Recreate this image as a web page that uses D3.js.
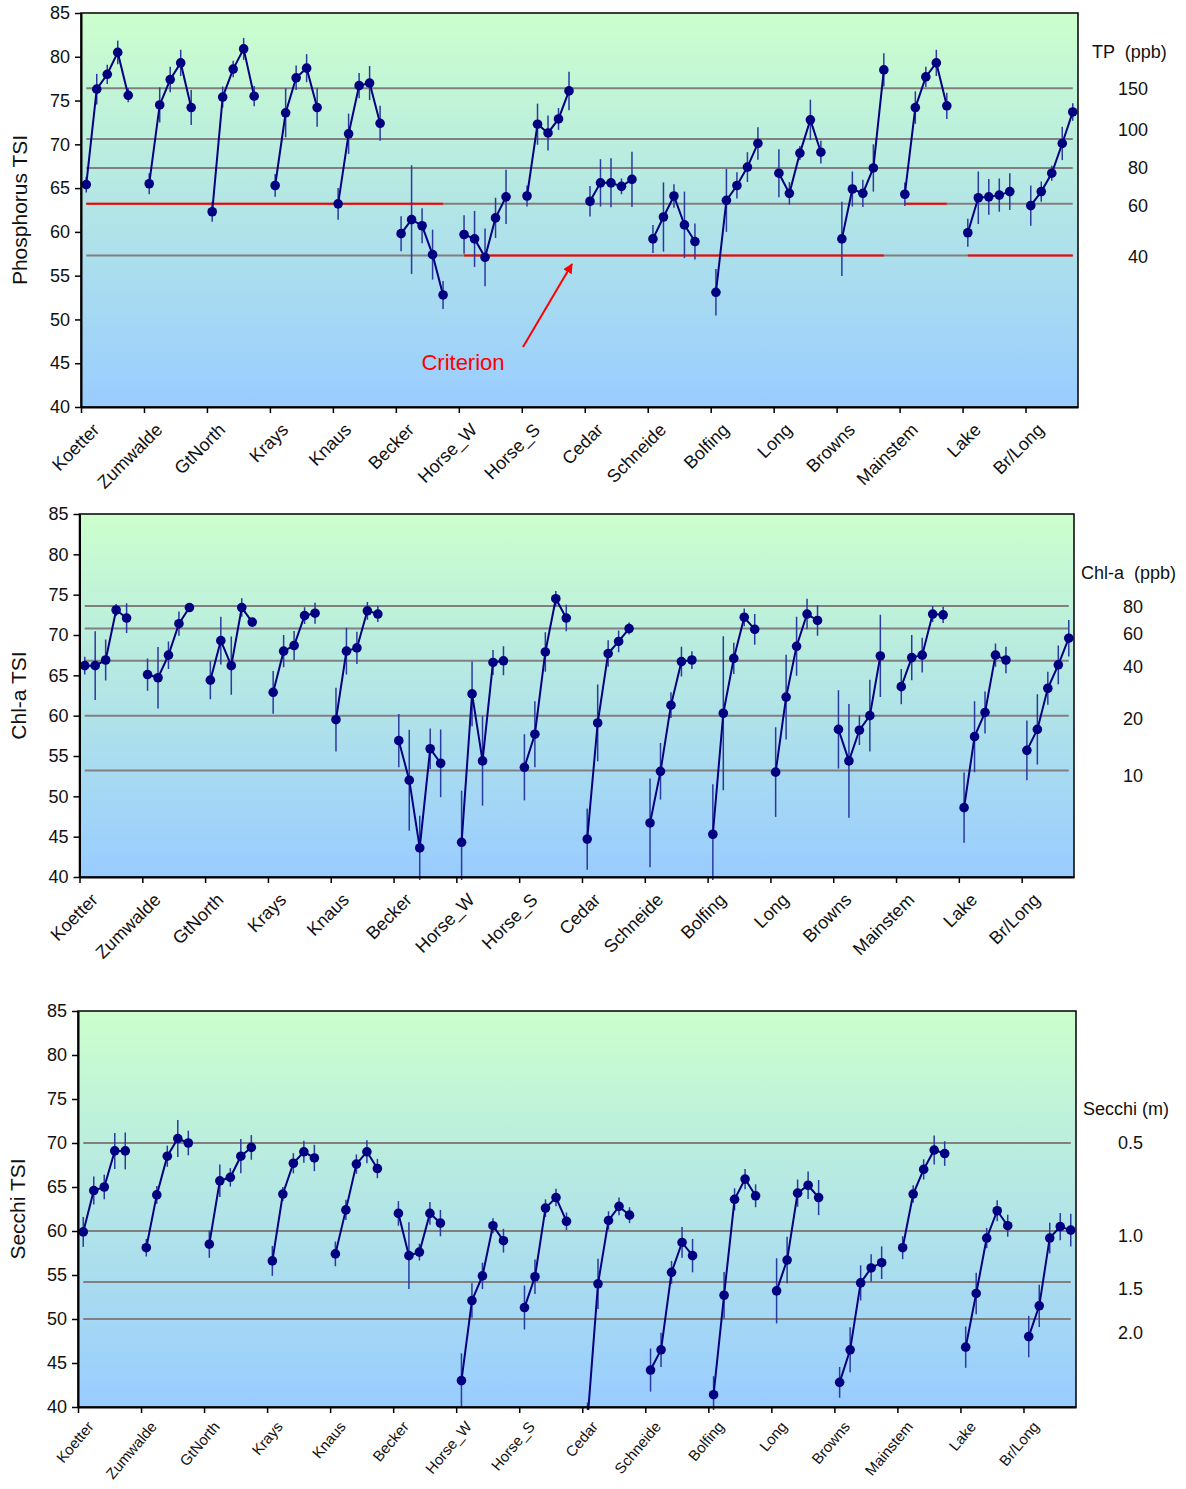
<!DOCTYPE html>
<html>
<head>
<meta charset="utf-8">
<script src="https://cdn.jsdelivr.net/npm/d3@7"></script>
<style>
  html, body { margin: 0; padding: 0; background: #fff; }
  svg { display: block; font-family: "Liberation Sans", Arial, sans-serif; }
</style>
</head>
<body>
<svg id="chart" width="1186" height="1489"></svg>
<script>
// Sites along the watershed, each sampled over five seasons
const categories = ["Koetter","Zumwalde","GtNorth","Krays","Knaus","Becker","Horse_W","Horse_S",
  "Cedar","Schneide","Bolfing","Long","Browns","Mainstem","Lake","Br/Long"];

// Phosphorus TSI (five seasons per site) and error half-widths
const tpTSI = [
  65.4,76.3,78.0,80.5,75.6,  65.5,74.5,77.4,79.3,74.2,  62.3,75.4,78.6,80.9,75.5,
  65.3,73.6,77.6,78.7,74.2,  63.2,71.2,76.7,77.0,72.4,  59.8,61.4,60.7,57.4,52.8,
  59.7,59.2,57.1,61.6,64.0,  64.1,72.3,71.3,72.9,76.1,  63.5,65.6,65.6,65.2,66.0,
  59.2,61.7,64.1,60.8,58.9,  53.1,63.6,65.3,67.4,70.1,  66.7,64.4,69.0,72.8,69.1,
  59.2,64.9,64.4,67.3,78.5,  64.3,74.2,77.7,79.3,74.4,  59.9,63.9,64.0,64.2,64.6,
  63.0,64.6,66.7,70.1,73.7];
const tpErr = [
  0.9,1.75,1.1,1.35,0.8,  1.2,2.0,1.45,1.5,2.0,  1.15,1.2,0.95,1.25,1.15,
  1.3,2.8,1.4,1.6,2.2,  1.8,2.3,1.45,1.95,2.0,  2.0,6.2,2.0,2.85,1.6,
  2.2,3.2,3.3,2.3,3.1,  1.2,2.35,2.0,1.25,2.2,  1.75,2.7,2.8,0.9,3.15,
  1.6,3.95,1.35,3.8,2.05,  2.65,3.6,1.5,1.7,1.85,  2.75,1.3,0.8,2.3,1.3,
  4.25,2.0,1.55,2.7,1.9,  1.35,1.85,1.15,1.5,1.5,  1.6,3.0,2.05,1.9,2.1,
  2.3,1.15,0.85,1.9,1.0];

// Chlorophyll-a TSI and error half-widths
const chlTSI = [
  66.2,66.2,66.9,73.1,72.1,  65.1,64.7,67.5,71.4,73.4,  64.4,69.3,66.2,73.4,71.6,
  62.9,68.0,68.7,72.4,72.7,  59.5,68.0,68.4,73.0,72.6,  56.9,52.0,43.6,55.9,54.1,
  44.3,62.7,54.4,66.6,66.8,  53.6,57.7,67.9,74.5,72.1,  44.7,59.1,67.7,69.2,70.8,
  46.7,53.1,61.3,66.7,66.9,  45.3,60.3,67.1,72.2,70.7,  53.0,62.3,68.6,72.6,71.8,
  58.3,54.4,58.2,60.0,67.4,  63.6,67.2,67.5,72.6,72.5,  48.6,57.4,60.4,67.5,66.9,
  55.7,58.3,63.4,66.3,69.6];
const chlErr = [
  1.1,4.25,2.55,0.75,1.85,  2.0,3.8,1.7,1.5,0.5,  2.35,2.95,3.6,1.15,0.5,
  2.65,2.0,1.8,1.05,1.3,  3.95,2.9,2.0,1.1,1.0,  3.3,6.25,4.0,2.5,4.2,
  6.4,4.0,5.55,1.55,1.8,  4.1,4.1,2.45,0.95,1.65,  3.8,4.75,1.65,1.35,0.75,
  5.5,3.5,1.6,1.85,1.1,  6.2,9.55,1.95,1.1,1.9,  5.55,5.25,3.65,1.9,1.9,
  4.85,7.05,1.85,4.45,5.1,  2.2,2.8,2.15,1.0,1.0,  4.35,4.4,2.6,1.45,1.65,
  3.7,4.35,2.05,2.4,2.25];

// Secchi depth TSI and error half-widths
const sdTSI = [
  59.9,64.6,65.0,69.1,69.1,  58.1,64.1,68.5,70.5,70.0,  58.5,65.7,66.1,68.5,69.5,
  56.6,64.2,67.7,69.0,68.3,  57.4,62.4,67.6,69.0,67.1,  62.0,57.2,57.6,62.0,60.9,
  43.0,52.1,54.9,60.6,58.9,  51.3,54.8,62.6,63.8,61.1,  38.5,54.0,61.2,62.8,61.8,
  44.2,46.5,55.3,58.7,57.2,  41.4,52.7,63.6,65.9,64.0,  53.2,56.7,64.3,65.2,63.8,
  42.8,46.5,54.1,55.8,56.4,  58.1,64.2,67.0,69.2,68.8,  46.8,52.9,59.2,62.3,60.6,
  48.0,51.5,59.2,60.5,60.1];
const sdErr = [
  1.7,1.6,1.4,2.05,2.1,  1.0,1.0,1.2,2.1,1.4,  1.55,1.85,1.05,1.95,1.4,
  1.7,0.8,1.15,1.25,1.5,  1.4,1.15,1.1,1.3,1.1,  1.4,3.8,0.95,1.3,1.5,
  3.1,1.95,1.5,0.85,1.35,  2.5,1.95,1.0,1.0,1.0,  2.0,2.85,1.05,1.0,0.9,
  2.45,1.95,1.3,1.75,1.9,  2.1,2.65,1.25,1.15,1.3,  3.7,2.65,1.55,1.55,2.0,
  1.75,2.55,2.0,1.55,1.85,  1.3,1.0,1.15,1.65,1.4,  2.35,2.35,1.15,1.2,1.25,
  2.35,2.4,1.75,1.55,1.85];

// Reference levels (TSI) with their concentration / depth labels
const tpRefTSI = [76.4, 70.6, 67.3, 63.2, 57.3];
const tpRefLabels = ["150", "100", "80", "60", "40"];
const chlRefTSI = [73.6, 70.8, 66.8, 60.0, 53.2];
const chlRefLabels = ["80", "60", "40", "20", "10"];
const sdRefTSI = [70.0, 60.0, 54.2, 50.0];
const sdRefLabels = ["0.5", "1.0", "1.5", "2.0"];

// Phosphorus criterion per site (TSI of 60 or 40 ppb)
const tpCriterionTSI = [63.2,63.2,63.2,63.2,63.2,63.2,57.3,57.3,57.3,57.3,57.3,57.3,57.3,63.2,57.3,57.3];

const yTicks = [40,45,50,55,60,65,70,75,80,85];

const SEASONS = 5, SLOT = 6, NSLOTS = categories.length * SLOT - 1;

const svg = d3.select("#chart");
const defs = svg.append("defs");
const grad = defs.append("linearGradient").attr("id", "bg").attr("x1", 0).attr("y1", 0).attr("x2", 0).attr("y2", 1);
grad.append("stop").attr("offset", "0%").attr("stop-color", "#ccffcc");
grad.append("stop").attr("offset", "100%").attr("stop-color", "#99ccff");

defs.append("marker").attr("id", "arrowhead").attr("viewBox", "0 0 10 10")
  .attr("refX", 9).attr("refY", 5).attr("markerWidth", 5).attr("markerHeight", 5)
  .attr("orient", "auto")
  .append("path").attr("d", "M0,0 L10,5 L0,10 z").attr("fill", "#ff0000");

function drawPanel(cfg, idx) {
  const g = svg.append("g");
  const x = d3.scaleLinear().domain([0, NSLOTS]).range([cfg.left, cfg.right]);
  const y = d3.scaleLinear().domain([40, 85]).range([cfg.bottom, cfg.top]);
  const sx = i => x(i + 0.5);
  const slotOf = k => Math.floor(k / SEASONS) * SLOT + (k % SEASONS);

  g.append("rect").attr("x", cfg.left).attr("y", cfg.top)
    .attr("width", cfg.right - cfg.left).attr("height", cfg.bottom - cfg.top)
    .attr("fill", "url(#bg)");

  const clipId = "clip" + idx;
  defs.append("clipPath").attr("id", clipId).append("rect")
    .attr("x", cfg.left).attr("y", cfg.top)
    .attr("width", cfg.right - cfg.left).attr("height", cfg.bottom - cfg.top + 3);

  // reference lines
  g.selectAll(".ref").data(cfg.refTSI).join("line")
    .attr("x1", sx(0)).attr("x2", sx(NSLOTS - 1))
    .attr("y1", d => y(d)).attr("y2", d => y(d))
    .attr("stroke", "#808080").attr("stroke-width", 2);

  // criterion segments
  if (cfg.criterion) {
    const runs = [];
    cfg.criterion.forEach((v, c) => {
      const last = runs[runs.length - 1];
      if (last && last.v === v && last.end === c - 1) last.end = c;
      else runs.push({ v, start: c, end: c });
    });
    g.selectAll(".crit").data(runs).join("line")
      .attr("x1", d => sx(d.start * SLOT)).attr("x2", d => sx(d.end * SLOT + SEASONS - 1))
      .attr("y1", d => y(d.v)).attr("y2", d => y(d.v))
      .attr("stroke", "#ff0000").attr("stroke-width", 2);
  }

  const pts = cfg.values.map((v, k) => ({ v, e: cfg.errors[k], slot: slotOf(k), cat: Math.floor(k / SEASONS) }));
  const plot = g.append("g").attr("clip-path", `url(#${clipId})`);

  plot.selectAll(".err").data(pts).join("line")
    .attr("x1", d => sx(d.slot)).attr("x2", d => sx(d.slot))
    .attr("y1", d => y(d.v - d.e)).attr("y2", d => y(d.v + d.e))
    .attr("stroke", "#2b3a9e").attr("stroke-width", 1.5);

  const line = d3.line().x(d => sx(d.slot)).y(d => y(d.v));
  const groups = d3.groups(pts, d => d.cat).map(d => d[1]);
  plot.selectAll(".series").data(groups).join("path")
    .attr("d", line).attr("fill", "none")
    .attr("stroke", "#000080").attr("stroke-width", 2);

  plot.selectAll(".dot").data(pts).join("circle")
    .attr("cx", d => sx(d.slot)).attr("cy", d => y(d.v)).attr("r", 4.8)
    .attr("fill", "#000080");

  // frame
  g.append("rect").attr("x", cfg.left).attr("y", cfg.top)
    .attr("width", cfg.right - cfg.left).attr("height", cfg.bottom - cfg.top)
    .attr("fill", "none").attr("stroke", "#000").attr("stroke-width", 1.5);

  // y axis
  const ya = g.append("g").attr("transform", `translate(${cfg.left},0)`)
    .call(d3.axisLeft(y).tickValues(yTicks).tickSize(6).tickSizeOuter(0).tickPadding(5));
  ya.select(".domain").attr("stroke", "#000").attr("stroke-width", 2);
  ya.selectAll(".tick line").attr("stroke", "#000").attr("stroke-width", 1.5);
  ya.selectAll(".tick text").attr("font-size", 18).attr("fill", "#111")
    .attr("font-family", "Liberation Sans, Arial, sans-serif");

  // x axis with site names
  const xa = g.append("g").attr("transform", `translate(0,${cfg.bottom})`)
    .call(d3.axisBottom(x).tickValues(d3.range(0, NSLOTS, SLOT)).tickSize(6).tickSizeOuter(0)
      .tickFormat((d, i) => categories[i]));
  xa.select(".domain").attr("stroke", "#000").attr("stroke-width", 2);
  xa.selectAll(".tick line").attr("stroke", "#000").attr("stroke-width", 1.5);
  xa.selectAll(".tick text")
    .attr("font-size", cfg.labelSize).attr("fill", "#111")
    .attr("font-family", "Liberation Sans, Arial, sans-serif")
    .attr("text-anchor", "end").attr("x", 0).attr("y", 0).attr("dy", 0)
    .attr("transform", `translate(${cfg.labelDx},${cfg.labelDy}) rotate(${cfg.labelRot})`);

  // axis title
  g.append("text").attr("transform", `translate(${cfg.titleX},${(cfg.top + cfg.bottom) / 2}) rotate(-90)`)
    .attr("text-anchor", "middle").attr("font-size", 21).attr("fill", "#111").text(cfg.title);

  // right-hand scale labels
  g.append("text").attr("x", cfg.unitX).attr("y", cfg.unitY).attr("font-size", 18)
    .attr("fill", "#111").attr("xml:space", "preserve").text(cfg.unit);
  g.selectAll(".rlab").data(cfg.refLabels).join("text")
    .attr("x", cfg.refLabelX).attr("y", (d, i) => y(cfg.refTSI[i]) + cfg.refNudge[i])
    .attr("dy", "0.35em").attr("text-anchor", "end").attr("font-size", 18).attr("fill", "#111")
    .text(d => d);

  return { x, y, sx };
}

drawPanel({
  left: 81, right: 1078, top: 13, bottom: 407,
  values: tpTSI, errors: tpErr, refTSI: tpRefTSI, refLabels: tpRefLabels,
  refNudge: [0, -9, 0, 2, 1], criterion: tpCriterionTSI,
  title: "Phosphorus TSI", titleX: 27, unit: "TP  (ppb)", unitX: 1092, unitY: 58, refLabelX: 1148,
  labelSize: 18, labelRot: -45, labelDx: 19, labelDy: 24
}, 1);

drawPanel({
  left: 79.5, right: 1074, top: 514, bottom: 877,
  values: chlTSI, errors: chlErr, refTSI: chlRefTSI, refLabels: chlRefLabels,
  refNudge: [1, 5, 6, 3, 5],
  title: "Chl-a TSI", titleX: 26, unit: "Chl-a  (ppb)", unitX: 1081, unitY: 579, refLabelX: 1143,
  labelSize: 18, labelRot: -45, labelDx: 19, labelDy: 24
}, 2);

drawPanel({
  left: 78, right: 1076, top: 1011, bottom: 1407,
  values: sdTSI, errors: sdErr, refTSI: sdRefTSI, refLabels: sdRefLabels,
  refNudge: [0, 5, 7, 14],
  title: "Secchi TSI", titleX: 25, unit: "Secchi (m)", unitX: 1083, unitY: 1115, refLabelX: 1143,
  labelSize: 15, labelRot: -50, labelDx: 16, labelDy: 20
}, 3);

// criterion annotation on the phosphorus panel
svg.append("text").attr("x", 463).attr("y", 370).attr("text-anchor", "middle")
  .attr("font-size", 22).attr("fill", "#ff0000").text("Criterion");
svg.append("line").attr("x1", 523).attr("y1", 347).attr("x2", 572).attr("y2", 264)
  .attr("stroke", "#ff0000").attr("stroke-width", 2).attr("marker-end", "url(#arrowhead)");
</script>
</body>
</html>
